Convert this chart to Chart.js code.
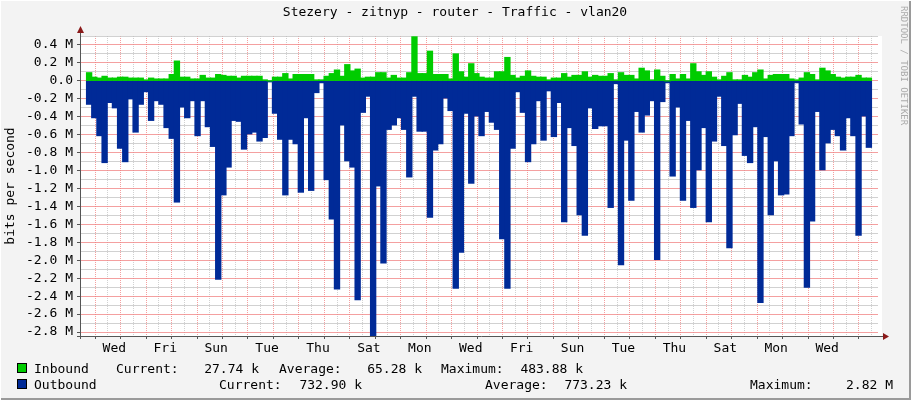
<!DOCTYPE html>
<html><head><meta charset="utf-8">
<script src="https://cdn.jsdelivr.net/npm/chart.js@4/dist/chart.umd.min.js"></script>
<style>html,body{margin:0;padding:0;background:#f3f3f3}#w{width:911px;height:400px;position:relative}</style>
</head><body><div id="w"><canvas id="c" width="911" height="400"></canvas></div>
<script>
// Series values in M bits/s (one per sample)
const inbound = [0.09,0.04,0.03,0.05,0.03,0.03,0.04,0.04,0.03,0.03,0.03,0.01,0.03,0.02,0.02,0.02,0.07,0.22,0.04,0.04,0.02,0.02,0.06,0.03,0.03,0.07,0.06,0.05,0.05,0.03,0.05,0.05,0.05,0.05,0.01,0.0,0.04,0.04,0.08,0.02,0.07,0.07,0.07,0.07,0.01,0.01,0.05,0.08,0.12,0.05,0.18,0.11,0.13,
 0.03,0.04,0.04,0.09,0.09,0.03,0.06,0.03,0.03,0.09,0.49,0.08,0.08,0.33,0.07,0.07,0.07,0.02,0.30,0.10,0.04,0.19,0.08,0.04,0.03,0.03,0.10,0.10,0.26,0.06,0.03,0.05,0.11,0.05,0.04,0.04,0.01,0.03,0.03,0.08,0.04,0.06,0.06,0.10,0.04,0.06,0.05,0.05,0.08,0.01,
 0.09,0.06,0.06,0.02,0.14,0.11,0.01,0.12,0.05,0.0,0.07,0.02,0.07,0.02,0.19,0.10,0.06,0.10,0.04,0.01,0.05,0.09,0.01,0.01,0.06,0.04,0.09,0.12,0.02,0.06,0.07,0.07,0.07,0.02,0.01,0.03,0.09,0.07,0.01,0.14,0.11,0.07,0.04,0.03,0.04,0.04,0.06,0.03,0.03];
const outbound = [-0.26,-0.41,-0.61,-0.91,-0.24,-0.30,-0.75,-0.90,-0.20,-0.57,-0.26,-0.12,-0.44,-0.22,-0.26,-0.52,-0.64,-1.35,-0.29,-0.41,-0.22,-0.61,-0.22,-0.51,-0.73,-2.21,-1.27,-0.96,-0.44,-0.45,-0.76,-0.59,-0.57,-0.67,-0.63,-0.01,-0.36,-0.65,-1.27,-0.65,-0.70,-1.24,-0.41,-1.22,-0.13,-0.02,-1.10,-1.54,-2.32,-0.49,-0.89,-0.96,-2.44,
 -0.35,-0.17,-2.84,-1.17,-2.03,-0.54,-0.49,-0.41,-0.54,-1.07,-0.17,-0.56,-0.56,-1.52,-0.77,-0.70,-0.19,-0.33,-2.31,-1.91,-0.36,-1.14,-0.39,-0.61,-0.34,-0.46,-0.54,-1.76,-2.31,-0.75,-0.12,-0.35,-0.90,-0.70,-0.22,-0.66,-0.11,-0.62,-0.24,-1.57,-0.52,-0.72,-1.49,-1.72,-0.30,-0.53,-0.50,-0.50,-1.41,-0.03,
 -2.05,-0.66,-1.33,-0.34,-0.57,-0.38,-0.22,-1.99,-0.23,-0.02,-1.06,-0.29,-1.33,-0.44,-1.41,-0.99,-0.52,-1.57,-0.67,-0.17,-0.72,-1.86,-0.60,-0.25,-0.83,-0.91,-0.51,-2.47,-0.62,-1.49,-0.89,-1.27,-1.26,-0.61,-0.02,-0.48,-2.30,-1.56,-0.34,-0.99,-0.69,-0.54,-0.61,-0.77,-0.41,-0.61,-1.72,-0.39,-0.74];
const dayLabels = ['Wed','Fri','Sun','Tue','Thu','Sat','Mon','Wed','Fri','Sun','Tue','Thu','Sat','Mon','Wed'];
const yMin = -2.844, yMax = 0.5;
const samplesPerDay = 4.93;   // samples per day
const firstMidnight = 2.41;   // in sample units
const title = 'Stezery - zitnyp - router - Traffic - vlan20';
const legendRows = [
 {name:'Inbound', color:'#00cc00', items:[['Current:',116,'27.74 k',259],['Average:',279,'65.28 k',422],['Maximum:',441,'483.88 k',583]]},
 {name:'Outbound', color:'#002a97', items:[['Current:',219,'732.90 k',362],['Average:',485,'773.23 k',627],['Maximum:',750,'2.82 M',893]]}
];

const n = Math.min(inbound.length, outbound.length);
const inData = inbound.slice(0,n).map((v,i)=>({x:i,y:v}));
const outData = outbound.slice(0,n).map((v,i)=>({x:i,y:v}));
const FONT = '"DejaVu Sans Mono", monospace';

const deco = {
  id:'deco',
  beforeDraw(c){
    const ctx=c.ctx, a=c.chartArea;
    ctx.save();
    ctx.fillStyle='#f3f3f3'; ctx.fillRect(0,0,911,400);
    ctx.strokeStyle='#9a9a9a'; ctx.lineWidth=2;
    ctx.beginPath(); ctx.moveTo(0,399); ctx.lineTo(910,399); ctx.lineTo(910,0); ctx.stroke();
    ctx.strokeStyle='#ffffff'; ctx.beginPath(); ctx.moveTo(0,400); ctx.lineTo(0,0); ctx.lineTo(911,0); ctx.stroke();
    ctx.fillStyle='#ffffff'; ctx.fillRect(a.left,a.top,a.right-a.left+4,a.bottom-a.top);
    ctx.restore();
  },
  afterDraw(c){
    const ctx=c.ctx, a=c.chartArea;
    ctx.save();
    // axes
    ctx.strokeStyle='#555'; ctx.lineWidth=1;
    ctx.beginPath(); ctx.moveTo(a.left+0.5,a.bottom+3); ctx.lineTo(a.left+0.5,a.top-6);
    ctx.moveTo(a.left-3,a.bottom+0.5); ctx.lineTo(a.right+8,a.bottom+0.5); ctx.stroke();
    ctx.fillStyle='#8b1a1a';
    ctx.beginPath(); ctx.moveTo(a.left-3,a.top-3); ctx.lineTo(a.left+4,a.top-3); ctx.lineTo(a.left+0.5,a.top-10); ctx.fill();
    ctx.beginPath(); ctx.moveTo(a.right+5,a.bottom-3); ctx.lineTo(a.right+5,a.bottom+4); ctx.lineTo(a.right+11,a.bottom+0.5); ctx.fill();
    // title
    ctx.fillStyle='#000'; ctx.font='13px '+FONT; ctx.textAlign='center'; ctx.textBaseline='middle';
    ctx.fillText(title,455,13);
    // y title
    ctx.save(); ctx.translate(11,(a.top+a.bottom)/2); ctx.rotate(-Math.PI/2); ctx.fillText('bits per second',0,0); ctx.restore();
    // right credit
    ctx.save(); ctx.translate(903,6); ctx.rotate(Math.PI/2); ctx.fillStyle='#aaa'; ctx.font='9px '+FONT; ctx.textAlign='left';
    ctx.fillText('RRDTOOL / TOBI OETIKER',0,0); ctx.restore();
    // legend
    ctx.textBaseline='alphabetic'; ctx.font='13px '+FONT;
    legendRows.forEach((r,k)=>{
      const y=373+k*16;
      ctx.fillStyle=r.color; ctx.fillRect(17.5,y-9.5,9,9);
      ctx.strokeStyle='#000'; ctx.strokeRect(17.5,y-9.5,9,9);
      ctx.fillStyle='#000'; ctx.textAlign='left'; ctx.fillText(r.name,34,y);
      r.items.forEach(it=>{ctx.textAlign='left'; ctx.fillText(it[0],it[1],y); ctx.textAlign='right'; ctx.fillText(it[2],it[3],y);});
    });
    ctx.restore();
  }
};

new Chart(document.getElementById('c'),{
  type:'bar',
  data:{datasets:[
    {label:'Inbound',data:inData,backgroundColor:'#00cc00',borderWidth:0,barPercentage:1,categoryPercentage:1,inflateAmount:0.6},
    {label:'Outbound',data:outData,backgroundColor:'#002a97',borderWidth:0,barPercentage:1,categoryPercentage:1,inflateAmount:0.6}
  ]},
  options:{
    responsive:false,animation:false,
    layout:{padding:{left:0,top:36,right:33,bottom:44}},
    plugins:{legend:{display:false},tooltip:{enabled:false}},
    scales:{
      x:{type:'linear',stacked:true,min:-0.5,max:n-0.5,
        afterFit(s){s.height=20;},
        afterBuildTicks(s){const t=[];for(let k=0;;k++){const v=firstMidnight+k*samplesPerDay/2;if(v>n-0.5)break;t.push({value:v,k});}s.ticks=t;},
        ticks:{autoSkip:false,maxRotation:0,color:'#000',font:{family:FONT,size:13},padding:2,
          callback(v,i){ if(i%2===1){const d=(i-1)/2; if(d%2===0) return dayLabels[d/2]||'';} return '';}},
        grid:{color(c){return c.index%2===0?'rgba(240,120,120,0.7)':'rgba(190,190,190,0.7)';},lineWidth:1,drawTicks:true,tickLength:3,tickColor(c){return c.index%2===0?'#555':'transparent';}},
        border:{display:false,dash:[1,1]}
      },
      y:{stacked:true,min:yMin,max:yMax,
        afterFit(s){s.width=80;},
        afterBuildTicks(s){const t=[];for(let k=-28;k<=5;k++)t.push({value:k/10});s.ticks=t;},
        ticks:{autoSkip:false,color:'#000',font:{family:FONT,size:13},padding:4,
          callback(v){const k=Math.round(v*10); if(k%2!==0) return ''; if(k===0) return '0.0'; return (k/10).toFixed(1)+' M';}},
        grid:{color(c){const k=Math.round(c.tick.value*10);return k%2===0?'rgba(240,120,120,0.7)':'rgba(190,190,190,0.7)';},tickLength:3,tickColor(c){return Math.round(c.tick.value*10)%2===0?'#555':'transparent';}},
        border:{display:false}
      }
    }
  },
  plugins:[deco]
});
</script></body></html>
